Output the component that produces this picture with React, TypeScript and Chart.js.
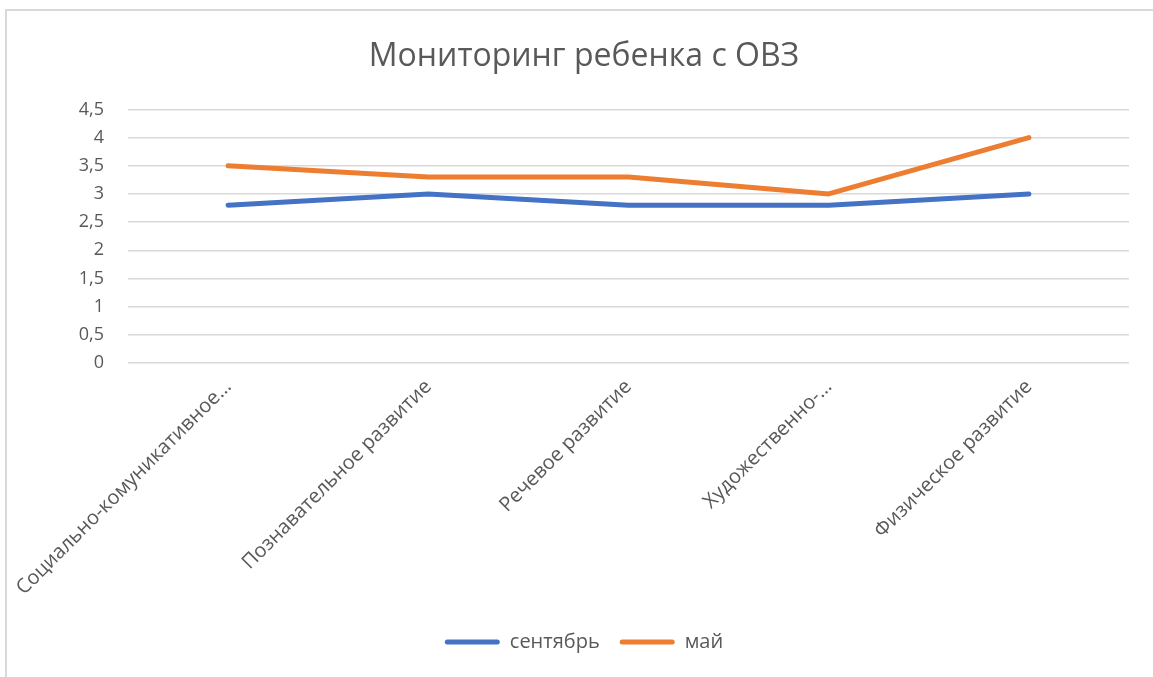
import React, { useEffect, useRef } from "react";
import { Chart, registerables } from "chart.js";

Chart.register(...registerables);

const chartTitle = "Мониторинг ребенка с ОВЗ";
const categories = [
  "Социально-комуникативное…",
  "Познавательное развитие",
  "Речевое развитие",
  "Художественно-…",
  "Физическое развитие",
];
const seriesNames = ["сентябрь", "май"];
const septemberValues = [2.8, 3, 2.8, 2.8, 3];
const mayValues = [3.5, 3.3, 3.3, 3, 4];
const yMin = 0;
const yMax = 4.5;
const yStep = 0.5;

const FONT = "'Open Sans', 'Noto Sans', sans-serif";
const TEXT = "#595959";

export default function App() {
  const ref = useRef<HTMLCanvasElement | null>(null);

  useEffect(() => {
    if (!ref.current) return;
    const chart = new Chart(ref.current, {
      type: "line",
      data: {
        labels: categories,
        datasets: [
          {
            label: seriesNames[0],
            data: septemberValues,
            borderColor: "#4472C4",
            backgroundColor: "#4472C4",
            borderWidth: 5,
            borderCapStyle: "round",
            borderJoinStyle: "round",
            pointRadius: 0,
            tension: 0,
          },
          {
            label: seriesNames[1],
            data: mayValues,
            borderColor: "#ED7D31",
            backgroundColor: "#ED7D31",
            borderWidth: 5,
            borderCapStyle: "round",
            borderJoinStyle: "round",
            pointRadius: 0,
            tension: 0,
          },
        ],
      },
      options: {
        animation: false,
        responsive: false,
        maintainAspectRatio: false,
        layout: { padding: { left: 39, right: 24, top: 0, bottom: 15 } },
        plugins: {
          title: {
            display: true,
            text: chartTitle,
            color: TEXT,
            font: { family: FONT, size: 32, weight: "normal" },
            padding: { top: 38, bottom: 33 },
          },
          legend: {
            position: "bottom",
            labels: {
              color: TEXT,
              font: { family: FONT, size: 20 },
              boxWidth: 55,
              boxHeight: 5,
              padding: 20,
              generateLabels: (c: any) => {
                const items = Chart.defaults.plugins.legend.labels.generateLabels(c);
                return items.map((it: any) => ({ ...it, lineWidth: 0, borderRadius: 2.5 }));
              },
            },
          },
          tooltip: { enabled: false },
        },
        scales: {
          x: {
            offset: true,
            grid: { display: false },
            border: { display: false },
            ticks: {
              color: TEXT,
              font: { family: FONT, size: 20 },
              minRotation: 45,
              maxRotation: 45,
              autoSkip: false,
              padding: 4,
            },
            afterFit: (s: any) => {
              s.height = 249;
            },
          },
          y: {
            min: yMin,
            max: yMax,
            grid: { color: "#d9d9d9", lineWidth: 1.5, drawTicks: false },
            border: { display: false },
            ticks: {
              stepSize: yStep,
              color: TEXT,
              font: { family: FONT, size: 18 },
              padding: 24,
              callback: (v: any) => String(v).replace(".", ","),
            },
            afterFit: (s: any) => {
              s.width = 89;
            },
          },
        },
      },
    });
    return () => chart.destroy();
  }, []);

  return (
    <div style={{ position: "fixed", left: 0, top: 0, width: 1153, height: 677, background: "#fff" }}>
      <canvas ref={ref} width={1153} height={677} style={{ display: "block" }} />
      <div
        style={{
          position: "absolute",
          left: 5,
          top: 9,
          width: 1300,
          height: 800,
          borderLeft: "2px solid #d9d9d9",
          borderTop: "2px solid #d9d9d9",
          pointerEvents: "none",
        }}
      />
    </div>
  );
}
